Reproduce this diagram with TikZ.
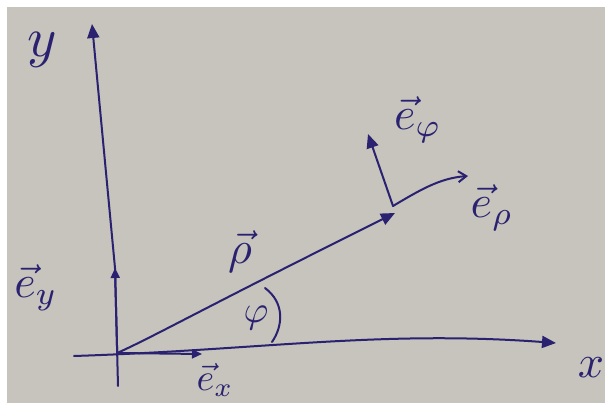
\documentclass[tikz,border=0pt]{standalone}
\usetikzlibrary{arrows.meta}
\definecolor{pencol}{RGB}{42,34,112}
\definecolor{paper}{RGB}{198,196,188}
\begin{document}
\begin{tikzpicture}[x=1pt,y=-1pt,
  pen/.style={draw=pencol, line width=2pt, line cap=round, line join=round},
  tipfill/.style={-{Triangle[length=14pt,width=12pt]}},
  tipsmall/.style={-{Triangle[length=10pt,width=9pt]}},
  tipopen/.style={-{Straight Barb[length=8pt,width=11pt]}},
  lbl/.style={text=pencol, inner sep=0pt},
  big/.style={scale=4.6},
  mid/.style={scale=3.8}]
\useasboundingbox (0,0) rectangle (605,403);
\fill[white] (0,0) rectangle (605,403);
\fill[paper] (7,7) rectangle (605,403);
% coordinates
\coordinate (O) at (117.2,353);
\coordinate (ybot) at (118,386);
\coordinate (ytop) at (92,24);
\coordinate (xleft) at (74,356);
\coordinate (xright) at (556,343);
\coordinate (extip) at (202,354);
\coordinate (eytip) at (115,268);
\coordinate (rhotip) at (395,213);
\coordinate (C) at (393,206);
\coordinate (ephitip) at (368,134);
\coordinate (erhotip) at (468,176);
\coordinate (arcA) at (265,288);
\coordinate (arcB) at (272,342);
% axes
\draw[pen, tipfill] (ybot) -- (eytip) -- (ytop);
\draw[pen, tipfill] (xleft) .. controls (260,350) and (380,330) .. (xright);
\draw[pen, tipsmall] (O) -- (extip);
\draw[pen, tipsmall] (O) -- (eytip);
% rho vector
\draw[pen, tipfill] (O) .. controls (155,336) and (200,310) .. (rhotip);
% local basis
\draw[pen, tipfill] (C) -- (ephitip);
\draw[pen, tipopen] (C) .. controls (420,190) and (440,178) .. (erhotip);
% angle arc
\draw[pen] (arcA) .. controls (285,303) and (283,326) .. (arcB);
% labels
\node[lbl, scale=5.6] (ylab) at (42,50) {$y$};
\node[lbl, big] (xlab) at (591,368) {$x$};
\node[lbl, big] (eylab) at (36,288) {$\vec e_y$};
\node[lbl, mid] (exlab) at (215,380) {$\vec e_x$};
\node[lbl, big] (rholab) at (240,252) {$\vec\rho$};
\node[lbl, mid] (philab) at (256,318) {$\varphi$};
\node[lbl, big] (ephilab) at (418,120) {$\vec e_\varphi$};
\node[lbl, big] (erholab) at (492,208) {$\vec e_\rho$};
\end{tikzpicture}
\end{document}
